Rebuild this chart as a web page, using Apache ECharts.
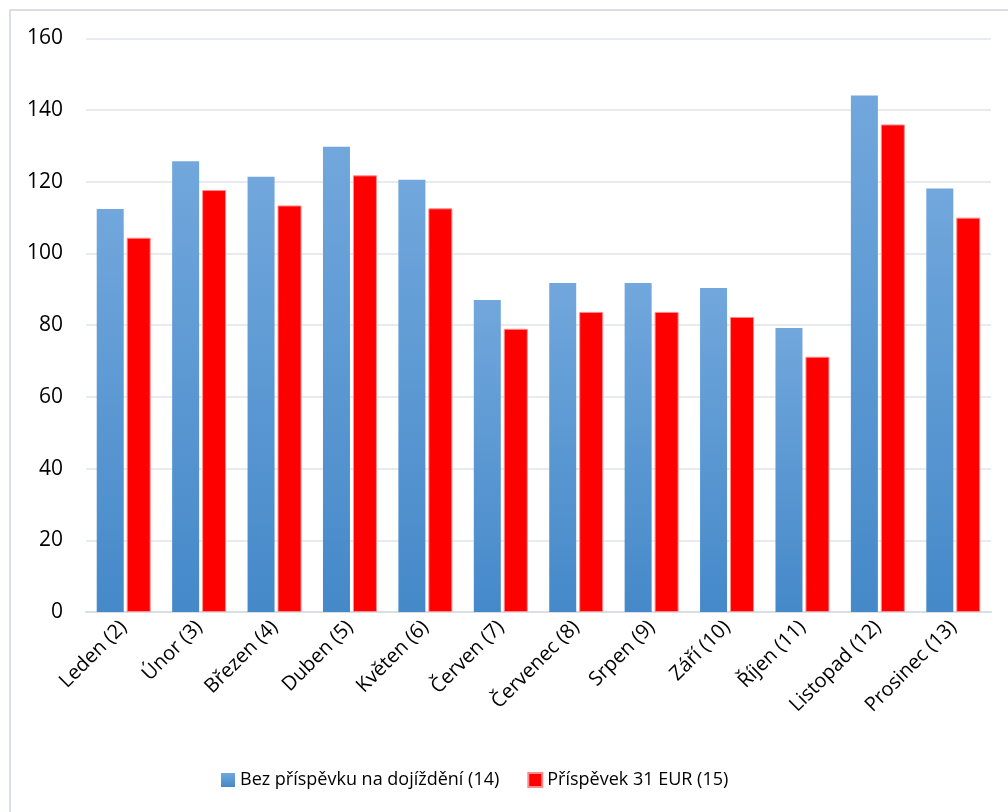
<!DOCTYPE html>
<html>
<head>
<meta charset="utf-8">
<script src="https://cdn.jsdelivr.net/npm/echarts@6/dist/echarts.min.js"></script>
<style>
  html, body { margin: 0; padding: 0; background: #fff; }
  #chart { width: 1008px; height: 812px; }
</style>
</head>
<body>
<div id="chart"></div>
<script>
// Months with row numbers
const months = ['Leden (2)', 'Únor (3)', 'Březen (4)', 'Duben (5)', 'Květen (6)', 'Červen (7)',
  'Červenec (8)', 'Srpen (9)', 'Září (10)', 'Říjen (11)', 'Listopad (12)', 'Prosinec (13)'];

const seriesNames = ['Bez příspěvku na dojíždění (14)', 'Příspěvek 31 EUR (15)'];

// Values without commuting allowance
const withoutAllowance = [112.4, 125.7, 121.4, 129.8, 120.6, 87.0, 91.8, 91.8, 90.4, 79.2, 144.1, 118.1];
// Values with 31 EUR allowance
const withAllowance = [104.4, 117.7, 113.4, 121.8, 112.6, 79.0, 83.7, 83.7, 82.3, 71.2, 136.0, 110.0];

const yMin = 0, yMax = 160, yStep = 20;

const font = '"Open Sans", "Noto Sans", sans-serif';

const chart = echarts.init(document.getElementById('chart'));

chart.setOption({
  backgroundColor: '#ffffff',
  animation: false,
  textStyle: { fontFamily: font },
  graphic: [{
    type: 'rect',
    shape: { x: 10, y: 10, width: 1020, height: 830 },
    style: { fill: 'none', stroke: '#d9dde6', lineWidth: 2 },
    silent: true,
    z: -1
  }],
  grid: { left: 86, right: 17, top: 38.4, bottom: 200, containLabel: false },
  legend: {
    left: 216,
    top: 766,
    itemWidth: 14,
    itemHeight: 14,
    itemGap: 28,
    icon: 'rect',
    textStyle: { fontFamily: font, fontSize: 18, color: '#000' },
    data: seriesNames
  },
  xAxis: {
    type: 'category',
    data: months,
    axisTick: { show: false },
    axisLine: { lineStyle: { color: '#d9dde4', width: 2 } },
    axisLabel: {
      rotate: 45,
      margin: 12,
      interval: 0,
      fontFamily: font,
      fontSize: 20,
      color: '#000'
    }
  },
  yAxis: {
    type: 'value',
    min: yMin,
    max: yMax,
    interval: yStep,
    axisLine: { show: false },
    axisTick: { show: false },
    splitLine: { lineStyle: { color: '#dfe3ea', width: 1.5 } },
    axisLabel: { margin: 23, fontFamily: font, fontSize: 21, color: '#000' }
  },
  series: [
    {
      name: seriesNames[0],
      type: 'bar',
      data: withoutAllowance,
      barWidth: 27,
      barGap: '11%',
      itemStyle: {
        color: new echarts.graphic.LinearGradient(0, 0, 0, 1, [
          { offset: 0, color: '#71a7dc' },
          { offset: 1, color: '#4589c9' }
        ])
      }
    },
    {
      name: seriesNames[1],
      type: 'bar',
      data: withAllowance,
      barWidth: 24,
      itemStyle: {
        color: '#ff0000',
        borderColor: '#ff8c8c',
        borderWidth: 1
      }
    }
  ]
});
</script>
</body>
</html>
